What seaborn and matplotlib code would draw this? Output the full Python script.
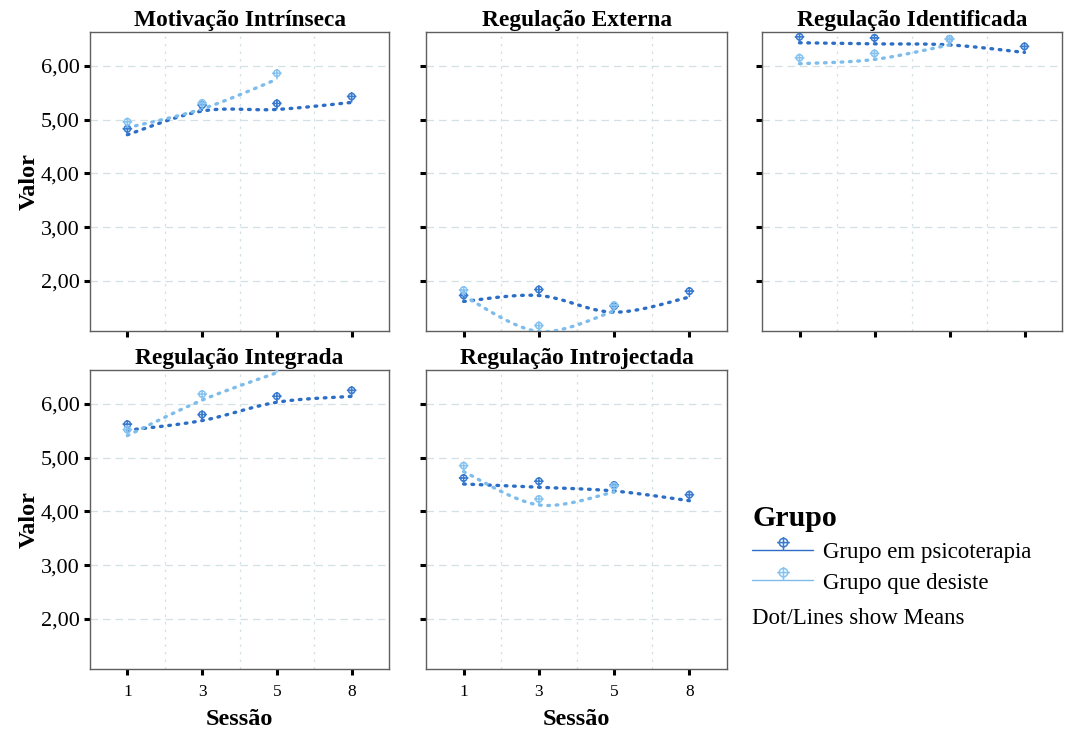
import numpy as np
import pandas as pd
import matplotlib
matplotlib.use("Agg")
import matplotlib.pyplot as plt
from matplotlib.path import Path
from matplotlib.markers import MarkerStyle
from matplotlib.lines import Line2D
import seaborn as sns

# ---------------------------------------------------------------- data
sessions = ["1", "3", "5", "8"]
scales = ["Motivação Intrínseca", "Regulação Externa", "Regulação Identificada",
          "Regulação Integrada", "Regulação Introjectada"]
groups = ["Grupo em psicoterapia", "Grupo que desiste"]

# mean scores per session (the dropout group is only observed up to session 5)
psico_intrinseca = [4.72, 5.16, 5.19, 5.32]
desiste_intrinseca = [4.85, 5.20, 5.75]
psico_externa = [1.62, 1.73, 1.42, 1.70]
desiste_externa = [1.72, 1.06, 1.44]
psico_identificada = [6.43, 6.41, 6.39, 6.25]
desiste_identificada = [6.04, 6.12, 6.39]
psico_integrada = [5.51, 5.69, 6.03, 6.14]
desiste_integrada = [5.41, 6.07, 6.58]
psico_introjectada = [4.51, 4.45, 4.38, 4.20]
desiste_introjectada = [4.74, 4.12, 4.36]

y_ticks = [2, 3, 4, 5, 6]
y_tick_labels = ["2,00", "3,00", "4,00", "5,00", "6,00"]

series = {
    scales[0]: (psico_intrinseca, desiste_intrinseca),
    scales[1]: (psico_externa, desiste_externa),
    scales[2]: (psico_identificada, desiste_identificada),
    scales[3]: (psico_integrada, desiste_integrada),
    scales[4]: (psico_introjectada, desiste_introjectada),
}

rows = []
for scale, (g1, g2) in series.items():
    for grp, vals in zip(groups, (g1, g2)):
        for i, v in enumerate(vals):
            rows.append({"Escala": scale, "Grupo": grp, "pos": i + 1,
                         "Sessão": sessions[i], "Valor": v})
df = pd.DataFrame(rows)

palette = {groups[0]: "#2c6ec6", groups[1]: "#7dbceb"}
marker_palette = {groups[0]: "#3a7bd0", groups[1]: "#86c3f0"}


def spline_through(xs, ys, n=40):
    """Catmull-Rom curve passing through the session means."""
    p = np.column_stack([xs, ys]).astype(float)
    p = np.vstack([p[0], p, p[-1]])
    t = np.linspace(0, 1, n, endpoint=False)[:, None]
    out = []
    for i in range(1, len(p) - 2):
        p0, p1, p2, p3 = p[i - 1], p[i], p[i + 1], p[i + 2]
        seg = 0.5 * (2 * p1 + (-p0 + p2) * t
                     + (2 * p0 - 5 * p1 + 4 * p2 - p3) * t ** 2
                     + (-p0 + 3 * p1 - 3 * p2 + p3) * t ** 3)
        out.append(seg)
    out.append(p[-2][None, :])
    return np.vstack(out)


# crosshair marker sitting on a short stem, anchored at the stem foot
circle = Path.circle(center=(0, 6.0), radius=3.2)
stem = Path([(0, 0), (0, 10.0)], [Path.MOVETO, Path.LINETO])
bar = Path([(-4.8, 6.0), (4.8, 6.0)], [Path.MOVETO, Path.LINETO])
cross_marker = MarkerStyle(Path.make_compound_path(circle, stem, bar))
MARKER_S = 14.4 ** 2

# ---------------------------------------------------------------- style
sns.set_style("white")
plt.rcParams["font.family"] = ["Liberation Serif", "DejaVu Serif"]
plt.rcParams["axes.unicode_minus"] = False
for key in ("text.color", "axes.labelcolor", "xtick.color", "ytick.color"):
    plt.rcParams[key] = "black"

W, H = 1066, 731
fig = plt.figure(figsize=(W / 100, H / 100), dpi=100)

col_x = [(90, 389), (426, 727), (762, 1062)]
row_y = [(32, 331), (370, 669)]
grid_color = "#d3e0e6"


def make_axes(r, c):
    x0, x1 = col_x[c]
    y0, y1 = row_y[r]
    return fig.add_axes([x0 / W, 1 - y1 / H, (x1 - x0) / W, (y1 - y0) / H])


layout = [(0, 0), (0, 1), (0, 2), (1, 0), (1, 1)]
for k, scale in enumerate(scales):
    r, c = layout[k]
    ax = make_axes(r, c)
    sub = df[df["Escala"] == scale]

    for grp in groups:
        g = sub[sub["Grupo"] == grp]
        curve = spline_through(g["pos"].to_numpy(), g["Valor"].to_numpy())
        cdf = pd.DataFrame({"x": curve[:, 0], "y": curve[:, 1]})
        sns.lineplot(data=cdf, x="x", y="y", ax=ax, sort=False, estimator=None,
                     color=palette[grp], linewidth=2.4,
                     linestyle=(0, (0.5, 2.0)), dash_capstyle="round",
                     zorder=3)
    for grp in groups:
        g = sub[sub["Grupo"] == grp]
        sns.scatterplot(data=g, x="pos", y="Valor", ax=ax, marker=cross_marker,
                        s=MARKER_S, facecolors="none",
                        edgecolor=marker_palette[grp], linewidths=1.1,
                        zorder=4, legend=False)

    ax.set_xlim(0.5, 4.5)
    ax.set_ylim(1.07, 6.63)
    ax.set_xticks([1, 2, 3, 4])
    ax.set_xticks([1.5, 2.5, 3.5], minor=True)
    ax.set_yticks(y_ticks)

    ax.grid(False)
    ax.grid(True, axis="y", which="major", color=grid_color, linewidth=0.9,
            linestyle=(0, (6, 4)), zorder=0)
    ax.grid(True, axis="x", which="minor", color=grid_color, linewidth=0.9,
            linestyle=(0, (2, 4)), zorder=0)
    ax.set_axisbelow(True)

    ax.tick_params(axis="both", which="major", direction="out", length=4.5,
                   width=2.2, color="black", bottom=True, left=True)
    ax.tick_params(axis="x", which="minor", length=0)
    ax.tick_params(axis="y", labelsize=16, pad=3)
    ax.tick_params(axis="x", labelsize=12.5, pad=6)

    if c == 0:
        ax.set_yticklabels(y_tick_labels)
        ax.set_ylabel("Valor", fontsize=17.5, fontweight="bold", labelpad=1)
    else:
        ax.set_yticklabels([])
        ax.set_ylabel("")

    if r == 1:
        ax.set_xticklabels(sessions)
        ax.set_xlabel("Sessão", fontsize=17.5, fontweight="bold", labelpad=7)
    else:
        ax.set_xticklabels([])
        ax.set_xlabel("")

    for sp in ax.spines.values():
        sp.set_visible(True)
        sp.set_color("#5e5e5e")
        sp.set_linewidth(1.0)

    ax.set_title(scale, fontsize=16.8, fontweight="bold", pad=4)

# ---------------------------------------------------------------- legend
handles = [Line2D([], [], color=palette[g], linewidth=1.0, marker=cross_marker,
                  markersize=19, markerfacecolor="none",
                  markeredgecolor=marker_palette[g], markeredgewidth=1.1)
           for g in groups]
fig.legend(handles=handles, labels=groups, title="Grupo", loc="upper left",
           bbox_to_anchor=(743 / W, 1 - 496 / H), frameon=False, fontsize=16.5,
           title_fontproperties={"weight": "bold", "size": 21.5},
           handlelength=2.65, handletextpad=0.45, labelspacing=0.42,
           alignment="left", borderaxespad=0)
fig.text(752 / W, 1 - 619 / H, "Dot/Lines show Means", fontsize=16.5,
         va="center", ha="left")

fig.savefig("out.png", dpi=100)
